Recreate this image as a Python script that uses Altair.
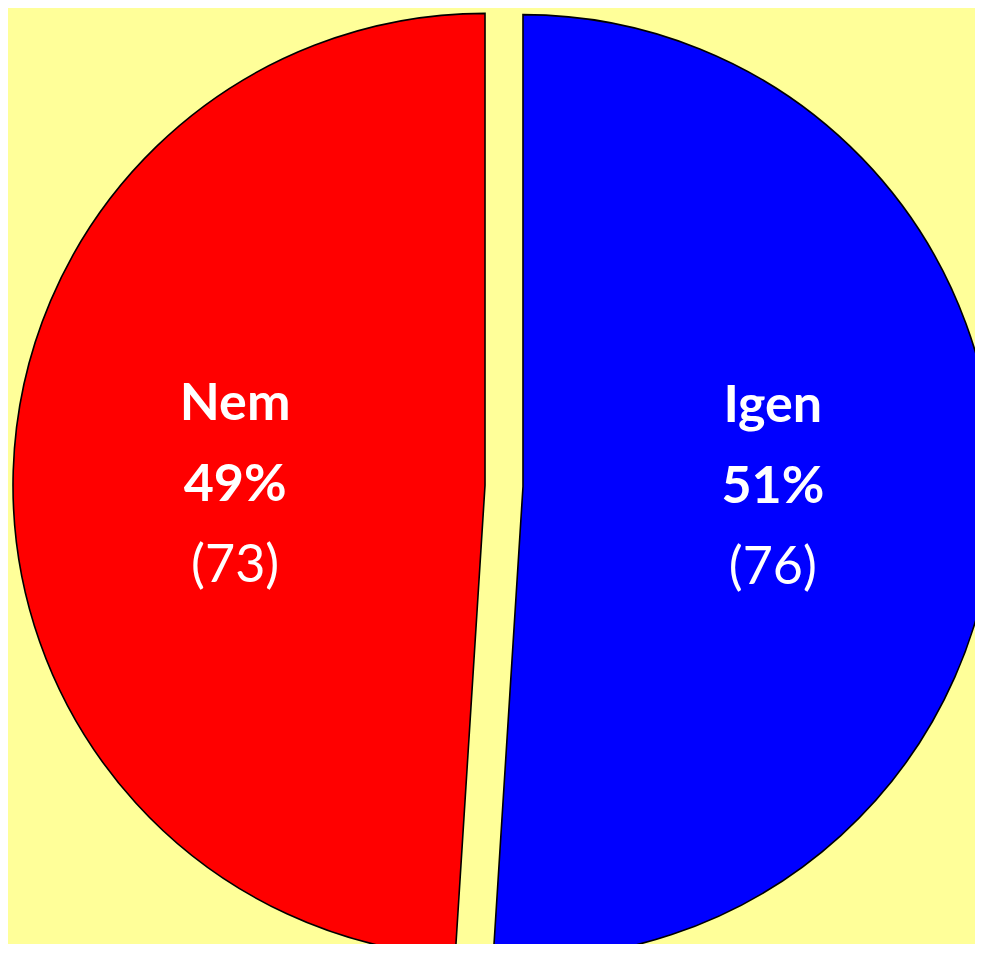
import altair as alt
import pandas as pd

# Data
categories = ["Igen", "Nem"]
counts = [76, 73]
colors = ["#0000FF", "#FF0000"]
order = [1, 2]

df = pd.DataFrame({"cat": categories, "n": counts, "order": order})

W, H = 967, 936
CX, CY = 496, 478
R = 472
EXPLODE = 19
LABEL_R = 250
FONT = "Comic Sans MS, Lato, sans-serif"

base = (
    alt.Chart(df)
    .transform_joinaggregate(total="sum(n)")
    .transform_window(cum="sum(n)", sort=[alt.SortField("order")], frame=[None, 0])
    .transform_calculate(
        start="2*PI*(datum.cum - datum.n)/datum.total",
        end="2*PI*datum.cum/datum.total",
    )
    .transform_calculate(mid="(datum.start + datum.end)/2")
    .transform_calculate(
        cx=f"{CX} + {EXPLODE}*sin(datum.mid)",
        cy=f"{CY} - {EXPLODE}*cos(datum.mid)",
        lx=f"{CX} + ({EXPLODE}+{LABEL_R})*sin(datum.mid)",
        ly=f"{CY} - ({EXPLODE})*cos(datum.mid)",
        pct="format(datum.n/datum.total, '.0%')",
        cnt="'(' + datum.n + ')'",
    )
)

arcs = base.mark_arc(radius=R, stroke="black", strokeWidth=1.6).encode(
    theta=alt.Theta("start:Q", scale=None),
    theta2="end:Q",
    x=alt.X("cx:Q", scale=None, axis=None),
    y=alt.Y("cy:Q", scale=None, axis=None),
    color=alt.Color("cat:N", scale=alt.Scale(domain=categories, range=colors), legend=None),
)

def label(field, dy, weight):
    return base.mark_text(
        font=FONT, fontSize=52, fontWeight=weight, color="white",
        align="center", baseline="middle", dy=dy,
    ).encode(
        x=alt.X("lx:Q", scale=None, axis=None),
        y=alt.Y("ly:Q", scale=None, axis=None),
        text=alt.Text(f"{field}:N"),
    )

chart = (
    alt.layer(arcs, label("cat", -81, "bold"), label("pct", 0, "bold"), label("cnt", 81, "normal"))
    .properties(width=W, height=H, padding=0, autosize=alt.AutoSizeParams(type="none"),
                background="#FFFF99")
    .configure_view(strokeWidth=0)
)

chart.save("out.html", embed_options={"renderer": "svg", "actions": False})
